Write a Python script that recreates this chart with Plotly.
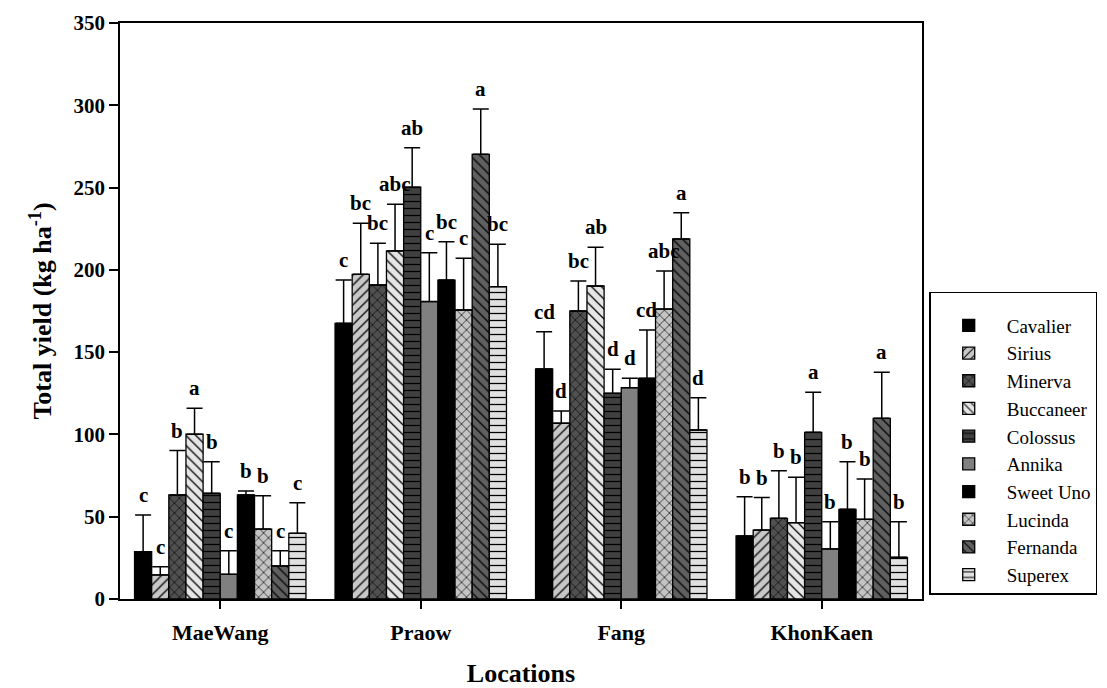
import plotly.graph_objects as go

locations = ["MaeWang", "Praow", "Fang", "KhonKaen"]
cultivars = ["Cavalier", "Sirius", "Minerva", "Buccaneer", "Colossus",
             "Annika", "Sweet Uno", "Lucinda", "Fernanda", "Superex"]

# mean yield per cultivar, one value per location (MaeWang, Praow, Fang, KhonKaen)
cavalier = [28.7, 167.5, 139.8, 38.3]
sirius = [14.6, 197.3, 106.8, 41.9]
minerva = [63.2, 190.8, 175.0, 49.0]
buccaneer = [100.1, 211.5, 190.2, 46.4]
colossus = [64.2, 250.2, 125.0, 101.3]
annika = [15.0, 180.7, 128.4, 30.4]
sweet_uno = [63.2, 193.8, 134.1, 54.5]
lucinda = [42.5, 175.6, 176.2, 48.4]
fernanda = [20.1, 270.2, 218.8, 109.8]
superex = [39.9, 189.8, 102.7, 25.3]

# standard errors (upper bars)
cavalier_se = [22.3, 26.3, 22.6, 23.9]
sirius_se = [5.0, 31.0, 7.4, 19.7]
minerva_se = [27.0, 25.3, 18.2, 29.0]
buccaneer_se = [15.8, 28.3, 23.5, 27.6]
colossus_se = [19.2, 24.0, 14.6, 24.3]
annika_se = [14.3, 29.7, 5.7, 16.6]
sweet_uno_se = [2.4, 23.3, 29.4, 28.9]
lucinda_se = [20.3, 31.4, 23.1, 24.5]
fernanda_se = [9.2, 27.5, 15.9, 28.0]
superex_se = [18.6, 25.7, 19.6, 21.7]

# significance letters
cavalier_lbl = ["c", "c", "cd", "b"]
sirius_lbl = ["c", "bc", "d", "b"]
minerva_lbl = ["b", "bc", "bc", "b"]
buccaneer_lbl = ["a", "abc", "ab", "b"]
colossus_lbl = ["b", "ab", "d", "a"]
annika_lbl = ["c", "c", "d", "b"]
sweet_uno_lbl = ["b", "bc", "cd", "b"]
lucinda_lbl = ["b", "c", "abc", "b"]
fernanda_lbl = ["c", "a", "a", "a"]
superex_lbl = ["c", "bc", "d", "b"]

y_ticks = [0, 50, 100, 150, 200, 250, 300, 350]

values = [cavalier, sirius, minerva, buccaneer, colossus,
          annika, sweet_uno, lucinda, fernanda, superex]
errors = [cavalier_se, sirius_se, minerva_se, buccaneer_se, colossus_se,
          annika_se, sweet_uno_se, lucinda_se, fernanda_se, superex_se]
letters = [cavalier_lbl, sirius_lbl, minerva_lbl, buccaneer_lbl, colossus_lbl,
           annika_lbl, sweet_uno_lbl, lucinda_lbl, fernanda_lbl, superex_lbl]

styles = [
    dict(bg="#000000", shape=""),
    dict(bg="#c8c8c8", shape="/"),
    dict(bg="#505050", shape="x"),
    dict(bg="#e6e6e6", shape="\\"),
    dict(bg="#404040", shape="-"),
    dict(bg="#808080", shape=""),
    dict(bg="#000000", shape=""),
    dict(bg="#c4c4c4", shape="x"),
    dict(bg="#606060", shape="\\"),
    dict(bg="#e0e0e0", shape="-"),
]

FONT = "'Liberation Serif', 'Times New Roman', Times, serif"
fig = go.Figure()
BARGAP = 0.145
n = len(cultivars)
slot = (1 - BARGAP) / n

for k, name in enumerate(cultivars):
    st = styles[k]
    pattern = dict(shape=st["shape"], bgcolor=st["bg"], fgcolor="black",
                   fillmode="replace", size=7, solidity=0.18)
    fig.add_trace(go.Bar(
        name=name, x=locations, y=values[k],
        marker=dict(color=st["bg"], pattern=pattern,
                    line=dict(color="black", width=1.3)),
        error_y=dict(type="data", symmetric=False, array=errors[k],
                     arrayminus=[0] * len(locations),
                     color="black", thickness=1.5, width=8),
    ))
    for i, loc in enumerate(locations):
        fig.add_annotation(
            x=i + (k - (n - 1) / 2) * slot, y=values[k][i] + errors[k][i],
            xref="x", yref="y", text="<b>%s</b>" % letters[k][i],
            showarrow=False, yanchor="middle", yshift=20,
            font=dict(family=FONT, size=21, color="black"))

fig.update_layout(
    width=1107, height=688,
    margin=dict(l=120, r=185, t=23, b=89, autoexpand=False),
    barmode="group", bargap=BARGAP, bargroupgap=0,
    plot_bgcolor="white", paper_bgcolor="white",
    font=dict(family=FONT, color="black"),
    showlegend=True,
    legend=dict(x=1.009, xanchor="left", y=0.533, yanchor="top",
                bordercolor="black", borderwidth=1.5, bgcolor="white",
                font=dict(family=FONT, size=19), tracegroupgap=0,
                itemwidth=66,
                title=dict(text=" ", font=dict(family=FONT, size=10))),
)
fig.update_xaxes(
    automargin=True,
    showline=True, linecolor="black", linewidth=1.5, mirror=True,
    ticks="outside", ticklen=8, tickwidth=1.5, tickcolor="black",
    ticklabelstandoff=5,
    tickfont=dict(family=FONT, size=22),
    tickvals=locations, ticktext=["<b>%s</b>" % l for l in locations],
    title=dict(text="<b>Locations</b>", font=dict(family=FONT, size=26), standoff=22),
    showgrid=False, zeroline=False,
)
fig.update_yaxes(
    automargin=False,
    range=[0, 350], tickvals=y_ticks, ticktext=["<b>%d</b>" % v for v in y_ticks],
    showline=True, linecolor="black", linewidth=1.5, mirror=True,
    ticks="outside", ticklen=9, tickwidth=1.5, tickcolor="black",
    tickfont=dict(family=FONT, size=21),
    title=dict(text="<b>Total yield (kg ha<sup>-1</sup>)</b>", font=dict(family=FONT, size=26), standoff=14),
    showgrid=False, zeroline=False,
)

fig.write_html("out.html", config={"displayModeBar": False},
               post_script="document.body.style.margin='0';document.body.style.overflow='hidden';")
